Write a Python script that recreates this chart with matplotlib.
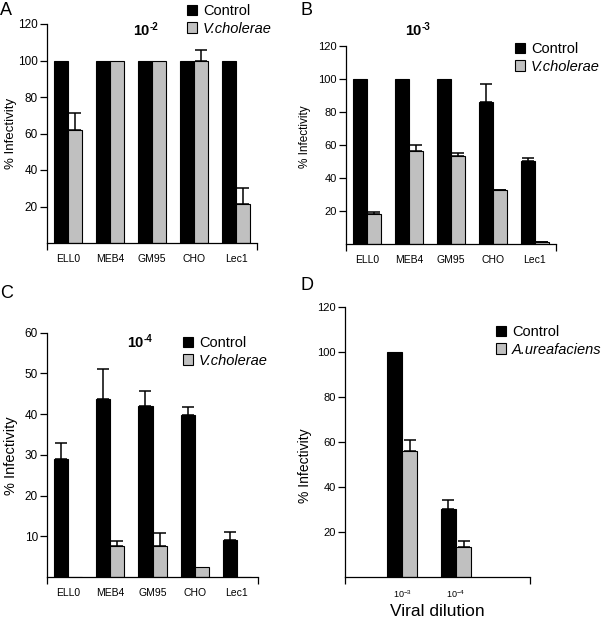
import numpy as np
import matplotlib
matplotlib.use("Agg")
import matplotlib.pyplot as plt

# data
cells = ["ELL0", "MEB4", "GM95", "CHO", "Lec1"]

a_ctrl = [100, 100, 100, 100, 100]
a_ctrl_err = [0, 0, 0, 0, 0]
a_vc = [62, 100, 100, 100, 21.5]
a_vc_err = [9, 0, 0, 6, 8.5]

b_ctrl = [100, 100, 100, 86, 50]
b_ctrl_err = [0, 0, 0, 11, 2]
b_vc = [18, 56.5, 53, 32.5, 1.2]
b_vc_err = [1.3, 3.3, 2, 0.4, 0.3]

c_ctrl = [29.1, 43.6, 41.9, 39.7, 9.2]
c_ctrl_err = [3.9, 7.4, 3.9, 2, 1.9]
c_vc = [0, 7.5, 7.7, 2.5, 0]
c_vc_err = [0, 1.4, 3, 0, 0]

dilutions = [r"$10^{-3}$", r"$10^{-4}$"]
d_ctrl = [100, 30.2]
d_ctrl_err = [0, 4.1]
d_au = [56, 13.4]
d_au_err = [4.6, 2.4]

GRAY = "#c0c0c0"
W, H = 606, 619

plt.rcParams["font.family"] = ["Liberation Sans", "DejaVu Sans"]
plt.rcParams["mathtext.fontset"] = "custom"
plt.rcParams["mathtext.rm"] = "Liberation Sans"
plt.rcParams["mathtext.bf"] = "Liberation Sans:bold"
plt.rcParams["mathtext.it"] = "Liberation Sans:italic"

fig = plt.figure(figsize=(W / 100, H / 100), dpi=100)


def box(l, r, t, b):
    return [l / W, 1 - b / H, (r - l) / W, (b - t) / H]


def draw(ax, labels, ctrl, ctrl_err, trt, trt_err, width, xlim, ylim, yticks,
         tick_size=7.5, ytick_size=8):
    x = np.arange(len(labels))
    b1 = ax.bar(x - width / 2, ctrl, width, color="black", edgecolor="black", linewidth=0.8)
    b2 = ax.bar(x + width / 2, trt, width, color=GRAY, edgecolor="black", linewidth=0.8)
    for xs, vals, errs in [(x - width / 2, ctrl, ctrl_err), (x + width / 2, trt, trt_err)]:
        for xi, v, e in zip(xs, vals, errs):
            if e > 0:
                ax.errorbar(xi, v, yerr=[[0], [e]], fmt="none", ecolor="black",
                            elinewidth=1.1, capsize=4.3, capthick=1.1)
    ax.set_xlim(*xlim)
    ax.set_ylim(*ylim)
    ax.set_yticks(yticks)
    ax.tick_params(axis="y", direction="out", length=5, width=0.9, labelsize=ytick_size, pad=1.5)
    ax.set_xticks(x)
    ax.set_xticklabels(labels)
    ax.tick_params(axis="x", which="major", length=0, labelsize=tick_size, pad=8)
    ax.set_xticks(list(xlim), minor=True)
    ax.tick_params(axis="x", which="minor", direction="out", length=5, width=0.9)
    for s in ["top", "right"]:
        ax.spines[s].set_visible(False)
    for s in ["left", "bottom"]:
        ax.spines[s].set_linewidth(0.9)
    return b1, b2


def legend(ax, handles, names, x, y):
    leg = ax.legend(handles, names, loc="upper left", bbox_to_anchor=(x / W, 1 - y / H),
                    bbox_transform=fig.transFigure, frameon=False, fontsize=10.5,
                    handlelength=0.7, handleheight=0.7, handletextpad=0.4,
                    labelspacing=0.25, borderpad=0, borderaxespad=0)
    leg.get_texts()[1].set_fontstyle("italic")


def ylab(ax, text, right, y, size):
    # right = right edge of the rotated label in pixels
    ax.set_ylabel(text, fontsize=size)
    inv = ax.transAxes.inverted()
    px = inv.transform(fig.transFigure.transform((right / W, 1 - y / H)))
    ax.yaxis.set_label_coords(px[0], px[1])


def title(x_split, base, sup):
    # "10" in bold with a small raised exponent, split at x_split px
    fig.text(x_split / W, 1 - base / H, "10", fontsize=10.5, fontweight="bold",
             ha="right", va="baseline")
    fig.text((x_split + 0.5) / W, 1 - (base - 5) / H, sup, fontsize=7, fontweight="bold",
             ha="left", va="baseline")


# Panel A
axA = fig.add_axes(box(47, 257, 24, 243))
h = draw(axA, cells, a_ctrl, a_ctrl_err, a_vc, a_vc_err, 1 / 3, (-0.5, 4.5), (0, 120),
         [20, 40, 60, 80, 100, 120], ytick_size=8.5)
legend(axA, h, ["Control", "V.cholerae"], 187, 4)
ylab(axA, "% Infectivity", 17, 133, 9.5)

# Panel B
axB = fig.add_axes(box(345.7, 556, 45.7, 244))
h = draw(axB, cells, b_ctrl, b_ctrl_err, b_vc, b_vc_err, 1 / 3, (-0.5, 4.5), (0, 120),
         [20, 40, 60, 80, 100, 120])
legend(axB, h, ["Control", "V.cholerae"], 515, 42)
ylab(axB, "% Infectivity", 311, 137, 8.5)

# Panel C
axC = fig.add_axes(box(47, 258, 332.7, 577))
h = draw(axC, cells, c_ctrl, c_ctrl_err, c_vc, c_vc_err, 1 / 3, (-0.5, 4.5), (0, 60),
         [10, 20, 30, 40, 50, 60], ytick_size=8.5)
legend(axC, h, ["Control", "V.cholerae"], 183, 336)
ylab(axC, "% Infectivity", 18, 456, 10.5)

# Panel D
axD = fig.add_axes(box(345, 530, 306.7, 577))
h = draw(axD, dilutions, d_ctrl, d_ctrl_err, d_au, d_au_err, 0.28, (-1.056, 2.37), (0, 120),
         [20, 40, 60, 80, 100, 120], tick_size=6.5)
legend(axD, h, ["Control", "A.ureafaciens"], 496, 325)
ylab(axD, "% Infectivity", 312, 466, 10)
axD.set_xlabel("Viral dilution", fontsize=12.5, labelpad=3)

# dilution titles
title(149, 35, "-2")
title(421, 35, "-3")
title(143, 347, "-4")

# panel letters
for letter, x, y in [("A", 0, 15), ("B", 300, 15), ("C", 0, 298), ("D", 300, 290)]:
    fig.text(x / W, 1 - y / H, letter, fontsize=13, ha="left", va="baseline")

fig.savefig("out.png", dpi=100)
